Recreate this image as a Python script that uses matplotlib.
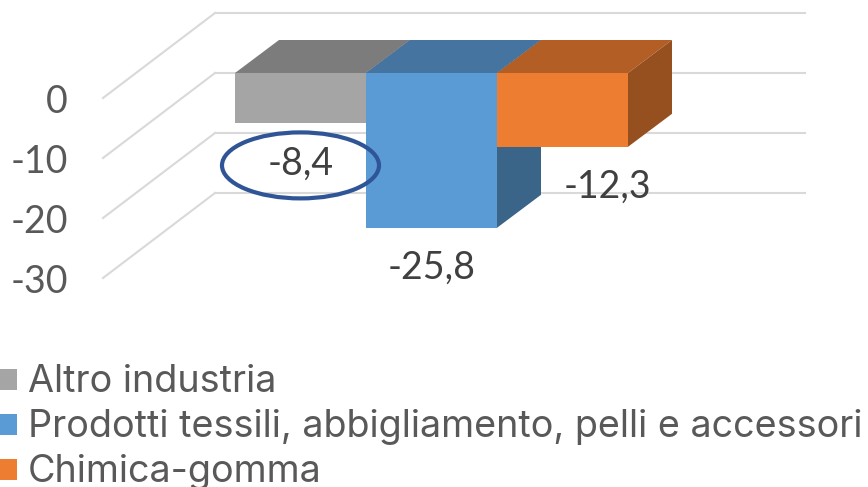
import matplotlib
matplotlib.use("Agg")
import matplotlib.pyplot as plt
from matplotlib.patches import Polygon, Rectangle, Ellipse

categories = ["Altro industria", "Prodotti tessili, abbigliamento, pelli e accessori", "Chimica-gomma"]
values = [-8.4, -25.8, -12.3]
labels = ["-8,4", "-25,8", "-12,3"]
ticks = [0, -10, -20, -30]
front_colors = ["#A5A5A5", "#5B9BD5", "#ED7D31"]
top_colors = ["#7C7C7C", "#44749F", "#B25E25"]
side_colors = ["#6F6F6F", "#3A6488", "#96501F"]

W, H = 868, 487
PX_X, PX_Y = 131.0, 6.0
X0, Y0 = 235.0, 73.0
TXT = "#595959"
plt.rcParams["font.family"] = ["Inter", "DejaVu Sans"]
NUM_FONT = ["Lato", "DejaVu Sans"]

fig = plt.figure(figsize=(W / 100, H / 100), dpi=100)
ax = fig.add_axes([0, 0, 1, 1])
ax.set_xlim(-X0 / PX_X, (W - X0) / PX_X)
ax.set_ylim((Y0 - H) / PX_Y, Y0 / PX_Y)
ax.axis("off")

def dx(p): return p / PX_X
def dy(p): return p / PX_Y

# grid: back wall + side wall
wall_left, wall_right = dx(215 - X0), dx(805 - X0)
for t in ticks:
    back = t + dy(60)
    ax.plot([wall_left, wall_right], [back, back], color="#D9D9D9", lw=1.5, zorder=1)
    ax.plot([wall_left, wall_left - dx(112)], [back, back - dy(85)], color="#D9D9D9", lw=1.5, zorder=1)
    ax.text(dx(68 - X0), back - dy(100), str(t), ha="right", va="baseline", fontsize=27,
            color=TXT, family=NUM_FONT, zorder=5)

# bars with a depth offset
ddx, ddy = dx(44), dy(33)
for i, (v, f, t, s) in enumerate(zip(values, front_colors, top_colors, side_colors)):
    ax.add_patch(Polygon([(i, 0), (i + 1, 0), (i + 1 + ddx, ddy), (i + ddx, ddy)], color=t, lw=0, zorder=2 + i))
    ax.add_patch(Polygon([(i + 1, 0), (i + 1 + ddx, ddy), (i + 1 + ddx, v + ddy), (i + 1, v)], color=s, lw=0, zorder=2 + i))
    ax.add_patch(Rectangle((i, v), 1, -v, color=f, lw=0, zorder=2 + i))

# data labels
offs = [0.5, 0.5, 0.5 + dx(45)]
for i, (v, lab) in enumerate(zip(values, labels)):
    ax.text(i + offs[i], v - dy(51), lab, ha="center", va="baseline", fontsize=27,
            color="#404040", family=NUM_FONT, zorder=6)

# highlight ellipse around first label
ax.add_patch(Ellipse((offs[0], values[0] - dy(42)), dx(157), dy(66), fill=False,
                     edgecolor="#2F5597", lw=3, zorder=7))

# legend
rows = [379.5, 424.5, 469.5]
for c, col, r in zip(categories, front_colors, rows):
    ax.add_patch(Rectangle((dx(-4 - X0), (Y0 - r - 10.5) / PX_Y), dx(21), dy(21), color=col, lw=0, zorder=5))
    ax.text(dx(28 - X0), (Y0 - r - 12.5) / PX_Y, c, ha="left", va="baseline", fontsize=27.2, color=TXT, zorder=5)

fig.savefig("out.png", dpi=100)
